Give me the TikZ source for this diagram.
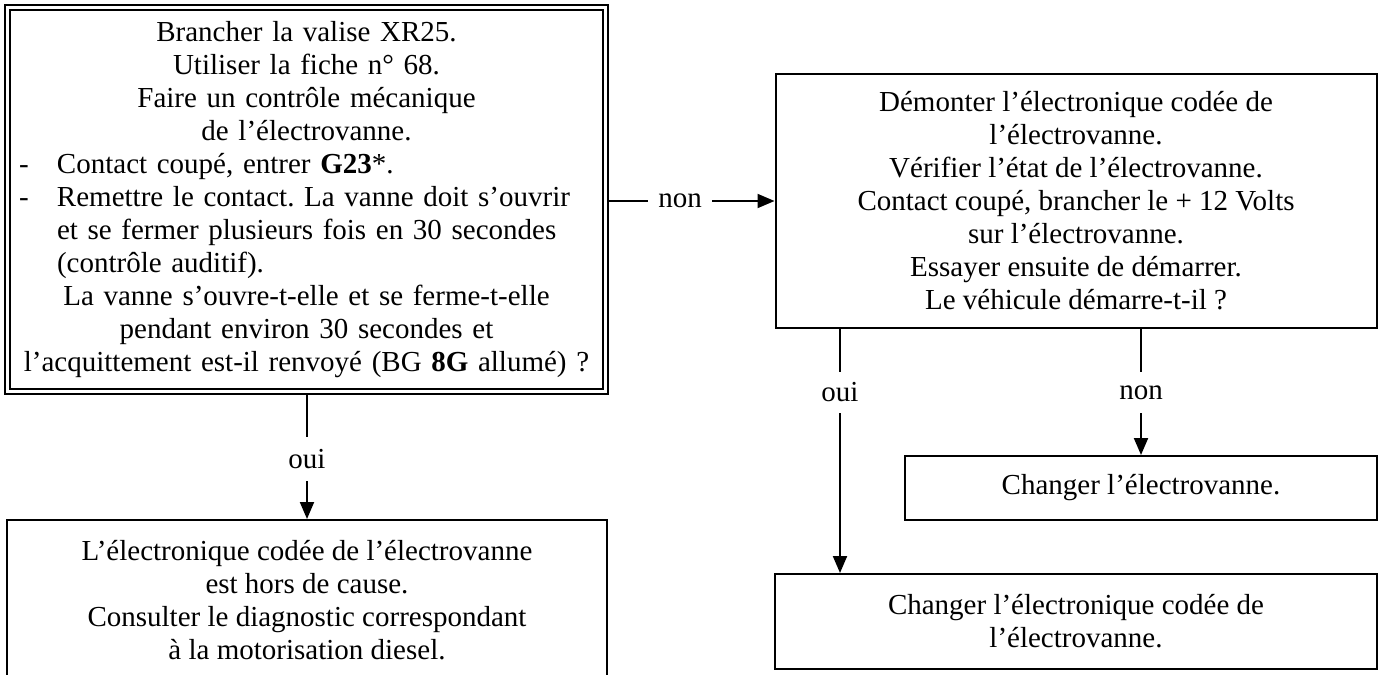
\documentclass[tikz,border=0pt]{standalone}
\usepackage{fontspec}
\setmainfont{Liberation Serif}
\usetikzlibrary{arrows.meta}
\frenchspacing
\begin{document}
\begin{tikzpicture}[x=1pt,y=-1pt,
  every node/.style={font=\fontsize{29}{33}\selectfont},
  boxstyle/.style={draw, line width=2pt, inner sep=0pt, align=center},
  dblbox/.style={draw, double, line width=2pt, double distance=3pt, inner sep=0pt},
  lbl/.style={inner sep=0pt},
  conn/.style={line width=2pt},
  arr/.style={line width=2pt, -{Triangle[length=17pt,width=14pt]}}
]
\useasboundingbox (0,0) rectangle (1380,674);

\node[dblbox, minimum width=598pt, minimum height=383.7pt, text width=586pt] (b1) at (306.5,199.6) {%
\frenchspacing\centering Brancher la valise XR25.\\ Utiliser la fiche n° 68.\\ Faire un contrôle mécanique\\ de l’électrovanne.\par
\leftskip=43.5pt \rightskip=0pt plus 1fil
\noindent\llap{\makebox[38pt][l]{-}}Contact coupé, entrer \textbf{G23}*.\par
\noindent\llap{\makebox[38pt][l]{-}}Remettre le contact. La vanne doit s’ouvrir\\ et se fermer plusieurs fois en 30 secondes\\ (contrôle auditif).\par
\leftskip=0pt plus 1fil \rightskip=0pt plus 1fil
\noindent La vanne s’ouvre-t-elle et se ferme-t-elle\\ pendant environ 30 secondes et\\ l’acquittement est-il renvoyé (BG \textbf{8G} allumé) ?\par};

\node[boxstyle, minimum width=601pt, minimum height=254pt] (R) at (1076,201) {Démonter l’électronique codée de\\ l’électrovanne.\\ Vérifier l’état de l’électrovanne.\\ Contact coupé, brancher le + 12 Volts\\ sur l’électrovanne.\\ Essayer ensuite de démarrer.\\ Le véhicule démarre-t-il ?};

\node[boxstyle, minimum width=600pt, minimum height=160pt] (b2) at (307,600) {L’électronique codée de l’électrovanne\\ est hors de cause.\\ Consulter le diagnostic correspondant\\ à la motorisation diesel.};

\node[boxstyle, minimum width=472pt, minimum height=64pt] (b4) at (1141,488) {Changer l’électrovanne.};
\node[boxstyle, minimum width=602pt, minimum height=95pt] (b3) at (1076,621.5) {Changer l’électronique codée de\\ l’électrovanne.};

\node[lbl, minimum height=44pt] (oui1) at (307,459) {oui};
\node[lbl, minimum height=41pt] (oui2) at (840,392.5) {oui};
\node[lbl, minimum height=41pt] (non2) at (1141,392.5) {non};
\node[lbl, minimum width=64pt] (non1) at (680,201) {non};

\draw[conn, shorten <=2.5pt] (b1.south -| oui1.north) -- (oui1.north);
\draw[arr] (oui1.south) -- (b2.north -| oui1.south);
\draw[conn, shorten <=2.5pt] (b1.east |- non1.west) -- (non1.west);
\draw[arr] (non1.east) -- (R.west |- non1.east);
\draw[conn] (R.south -| oui2.north) -- (oui2.north);
\draw[arr] (oui2.south) -- (b3.north -| oui2.south);
\draw[conn] (R.south -| non2.north) -- (non2.north);
\draw[arr] (non2.south) -- (b4.north -| non2.south);
\end{tikzpicture}
\end{document}
